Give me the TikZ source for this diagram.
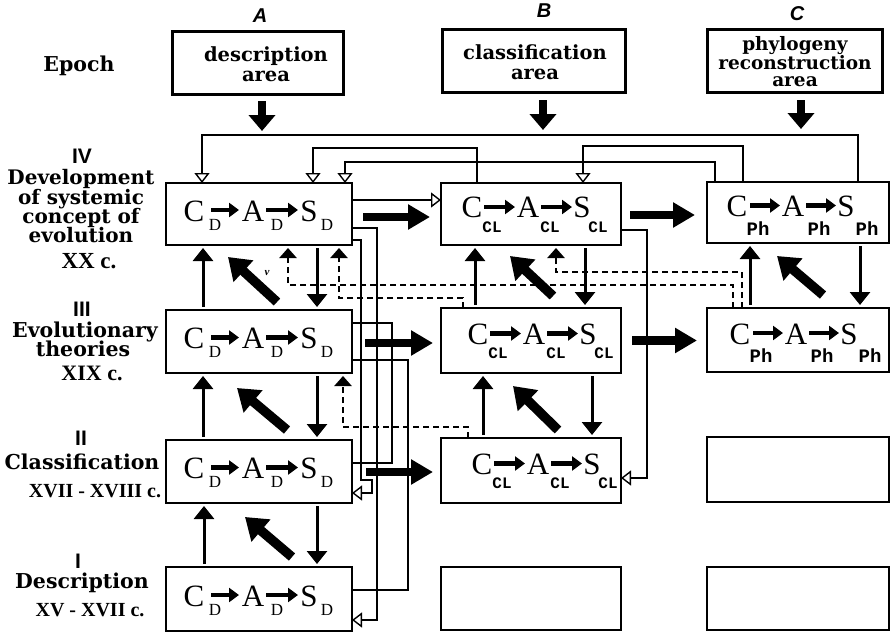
\documentclass[tikz,border=0pt]{standalone}
\usepackage{fontspec}
\usetikzlibrary{arrows.meta}
\newfontfamily\lblf{DejaVu Serif}
\newfontfamily\tmsf{Liberation Serif}
\newfontfamily\monf{Liberation Mono}
\newfontfamily\sanf{Liberation Sans}
\tikzset{
 rbox/.style={draw, line width=2.5pt, inner sep=0pt, outer sep=0pt},
 hbox/.style={draw, line width=3pt, inner sep=0pt, outer sep=0pt},
 htxt/.style={align=center, inner sep=0pt, font=\lblf\bfseries\fontsize{19.5}{20}\selectfont},
 lab/.style={font=\lblf\bfseries\fontsize{20.5}{18}\selectfont, anchor=base, inner sep=0pt},
 labs/.style={lab, font=\lblf\bfseries\fontsize{20}{18}\selectfont},
 cent/.style={font=\tmsf\bfseries\fontsize{20}{20}\selectfont, anchor=base, inner sep=0pt},
 rom/.style={font=\sanf\bfseries\fontsize{21}{21}\selectfont, anchor=base, inner sep=0pt},
 col/.style={font=\sanf\bfseries\itshape\fontsize{20}{20}\selectfont, inner sep=0pt},
 bigl/.style={font=\tmsf\fontsize{31}{31}\selectfont, anchor=base, inner sep=0pt},
 subD/.style={font=\tmsf\fontsize{17}{17}\selectfont, anchor=base, inner sep=0pt},
 subCL/.style={font=\monf\bfseries\fontsize{16}{16}\selectfont, anchor=base, inner sep=0pt},
 subPh/.style={font=\monf\bfseries\fontsize{19}{19}\selectfont, anchor=base, inner sep=0pt},
 inarr/.style={line width=4.5pt, -{Triangle[width=14pt,length=10pt]}},
 blockar/.style={line width=8pt, -{Triangle[width=26pt,length=16pt]}},
 midar/.style={line width=3pt, -{Triangle[width=20pt,length=13pt]}},
 diagar/.style={line width=9.5pt, -{Triangle[width=28pt,length=21pt]}},
 horar/.style={line width=8.5pt, -{Triangle[width=24pt,length=22pt]}},
 dashline/.style={line width=2.5pt, dash pattern=on 6pt off 4pt},
 dasharr/.style={dashline, -{Triangle[width=17pt,length=10pt]}},
 fb/.style={line width=1.4pt},
 fbarr/.style={fb, -{Triangle[open, width=15pt, length=10pt]}},
}
% box contents
\newcommand\trioD[1]{%
 \path ([xshift=28pt,yshift=-7pt]#1.west) node[bigl] (#1-C) {C}
       ([xshift=49pt,yshift=-16pt]#1.west) node[subD] (#1-s1) {D}
       ([xshift=87pt,yshift=-7pt]#1.west) node[bigl] (#1-A) {A}
       ([xshift=111pt,yshift=-16pt]#1.west) node[subD] (#1-s2) {D}
       ([xshift=143pt,yshift=-7pt]#1.west) node[bigl] (#1-S) {S}
       ([xshift=161pt,yshift=-16pt]#1.west) node[subD] (#1-s3) {D};
 \draw[inarr] ([xshift=45pt,yshift=4pt]#1.west) -- ++(28,0);
 \draw[inarr] ([xshift=100pt,yshift=4pt]#1.west) -- ++(32,0);
}
\newcommand\trioCL[2]{%
 \path ([xshift={(31+#2)*1pt},yshift=-3.5pt]#1.west) node[bigl] (#1-C) {C}
       ([xshift={(51+#2)*1pt},yshift=-18pt]#1.west) node[subCL] (#1-s1) {CL}
       ([xshift={(87+#2)*1pt},yshift=-3.5pt]#1.west) node[bigl] (#1-A) {A}
       ([xshift={(109+#2)*1pt},yshift=-18pt]#1.west) node[subCL] (#1-s2) {CL}
       ([xshift={(141+#2)*1pt},yshift=-3.5pt]#1.west) node[bigl] (#1-S) {S}
       ([xshift={(157+#2)*1pt},yshift=-18pt]#1.west) node[subCL] (#1-s3) {CL};
 \draw[inarr] ([xshift={(43+#2)*1pt},yshift=7pt]#1.west) -- ++(31,0);
 \draw[inarr] ([xshift={(100+#2)*1pt},yshift=7pt]#1.west) -- ++(31,0);
}
\newcommand\trioPh[2]{%
 \path ([xshift={(30+#2)*1pt},yshift=-4pt]#1.west) node[bigl] (#1-C) {C}
       ([xshift={(51+#2)*1pt},yshift=-22.5pt]#1.west) node[subPh] (#1-s1) {Ph}
       ([xshift={(86+#2)*1pt},yshift=-4pt]#1.west) node[bigl] (#1-A) {A}
       ([xshift={(112+#2)*1pt},yshift=-22.5pt]#1.west) node[subPh] (#1-s2) {Ph}
       ([xshift={(139+#2)*1pt},yshift=-4pt]#1.west) node[bigl] (#1-S) {S}
       ([xshift={(160+#2)*1pt},yshift=-22.5pt]#1.west) node[subPh] (#1-s3) {Ph};
 \draw[inarr] ([xshift={(43+#2)*1pt},yshift=7pt]#1.west) -- ++(30,0);
 \draw[inarr] ([xshift={(99+#2)*1pt},yshift=7pt]#1.west) -- ++(30,0);
}
\begin{document}
\begin{tikzpicture}[x=1pt,y=-1pt]
\path[fill=white] (0,0) rectangle (892,634);
\useasboundingbox (0,0) rectangle (892,634);

% column letters and headers
\node[col] (colA) at (260,16) {A};
\node[col] (colB) at (544,11) {B};
\node[col] (colC) at (797,14) {C};
\node[lab,anchor=center] (epoch) at (79,66) {Epoch};
\node[hbox, minimum width=171, minimum height=63] (HA) at (257.5,63.5) {};
\node[hbox, minimum width=183, minimum height=63] (HB) at (533.5,61.5) {};
\node[hbox, minimum width=175, minimum height=63] (HC) at (794.5,61.5) {};
\node[htxt] (HAt) at (266,64) {description\\area};
\node[htxt] (HBt) at (535,62) {classification\\area};
\node[htxt, font=\lblf\bfseries\fontsize{18.5}{17}\selectfont] (HCt) at (795,62) {phylogeny\\reconstruction\\area};
\draw[blockar] ([xshift=4.5pt,yshift=-6pt]HA.south) -- ++(0,30);
\draw[blockar] ([xshift=9.5pt,yshift=-7pt]HB.south) -- ++(0,30);
\draw[blockar] ([xshift=6.5pt,yshift=-7pt]HC.south) -- ++(0,29);

% row labels
\node[rom] (r4) at (82,163) {IV};
\node[labs] (r4a) at (81,184.5) {Development};
\node[labs] (r4b) at (81,204) {of systemic};
\node[labs] (r4c) at (81,223.5) {concept of};
\node[labs] (r4d) at (81,242) {evolution};
\node[cent, font=\tmsf\bfseries\fontsize{23}{23}\selectfont] (r4e) at (89,268) {XX c.};
\node[rom] (r3) at (82,316) {III};
\node[lab] (r3a) at (85,337) {Evolutionary};
\node[lab] (r3b) at (83,356) {theories};
\node[cent, font=\tmsf\bfseries\fontsize{22}{22}\selectfont] (r3c) at (92,380) {XIX c.};
\node[rom] (r2) at (81,445) {II};
\node[lab] (r2a) at (82,469) {Classification};
\node[cent] (r2b) at (95,497) {XVII - XVIII c.};
\node[rom] (r1) at (78,568) {I};
\node[lab] (r1a) at (82,588) {Description};
\node[cent] (r1b) at (90,616) {XV - XVII c.};

% boxes
\node[rbox, minimum width=186, minimum height=62] (A4) at (259,214) {};
\node[rbox, minimum width=186, minimum height=63] (A3) at (259,341.5) {};
\node[rbox, minimum width=186, minimum height=63] (A2) at (259,471.5) {};
\node[rbox, minimum width=186, minimum height=64] (A1) at (259,599) {};
\node[rbox, minimum width=180, minimum height=62] (B4) at (531,214) {};
\node[rbox, minimum width=180, minimum height=65] (B3) at (531,340.5) {};
\node[rbox, minimum width=180, minimum height=65] (B2) at (531,470.5) {};
\node[rbox, minimum width=180, minimum height=63] (B1) at (531,598.5) {};
\node[rbox, minimum width=182, minimum height=61] (C4) at (798,212.5) {};
\node[rbox, minimum width=182, minimum height=64] (C3) at (798,340) {};
\node[rbox, minimum width=182, minimum height=65] (C2) at (798,469.5) {};
\node[rbox, minimum width=182, minimum height=63] (C1) at (798,598.5) {};

\trioD{A4}\trioD{A3}\trioD{A2}\trioD{A1}
\trioCL{B4}{0}\trioCL{B3}{6}\trioCL{B2}{10}
\trioPh{C4}{0}\trioPh{C3}{3}

% feedback lines (thin)
\draw[fbarr] ([xshift=151pt]C4.north west) -- ++(0,-47) -| ([xshift=36pt]A4.north west);
\draw[fbarr] ([xshift=36pt]B4.north west) -- ++(0,-35) -| ([xshift=147pt]A4.north west);
\draw[fbarr] ([xshift=8pt]C4.north west) -- ++(0,-20) -| ([xshift=179pt]A4.north west);
\draw[fbarr] ([xshift=36pt]C4.north west) -- ++(0,-36) -| ([xshift=142pt]B4.north west);
\draw[fbarr] ([yshift=14pt]A4.east) -- ([yshift=14pt]B4.west);
\draw[fbarr] ([yshift=-14pt]A4.east) -- ++(25,0) |- ([yshift=-21pt]A1.east);
\draw[fbarr] ([yshift=-26pt]A4.east) -- ++(9,0) -- ++(0,240) -- ++(11,0) |- ([yshift=-21.5pt]A2.east);
\draw[fb] ([yshift=18.5pt]A3.east) -- ++(40,0) |- ([yshift=8.5pt]A2.east);
\draw[fb] ([yshift=-18.5pt]A3.east) -- ++(56,0) |- ([yshift=9pt]A1.east);
\draw[fbarr] ([yshift=-16pt]B4.east) -- ++(26,0) |- ([yshift=-7.5pt]B2.east);

% dashed links
\draw[dasharr] ([xshift=26pt]C3.north west) -- ++(0,-23) -| ([xshift=122pt,yshift=-3pt]A4.south west);
\draw[dasharr] ([xshift=22pt]B3.north west) -- ++(0,-10) -| ([xshift=173pt,yshift=-3pt]A4.south west);
\draw[dasharr] ([xshift=35pt]C3.north west) -- ++(0,-36) -| ([xshift=115pt,yshift=-3pt]B4.south west);
\draw[dasharr] ([xshift=27pt]B2.north west) -- ++(0,-11) -| ([xshift=177pt,yshift=-3pt]A3.south west);

% column A vertical arrows
\draw[midar] ([xshift=37pt,yshift=3pt]A3.north west) -- ([xshift=37pt,yshift=-3pt]A4.south west);
\draw[midar] ([xshift=151pt,yshift=-3pt]A4.south west) -- ([xshift=151pt,yshift=3pt]A3.north west);
\draw[diagar] ([xshift=111pt,yshift=8pt]A3.north west) -- ([xshift=62pt,yshift=-12pt]A4.south west);
\draw[midar] ([xshift=37pt,yshift=3pt]A2.north west) -- ([xshift=37pt,yshift=-3pt]A3.south west);
\draw[midar] ([xshift=151pt,yshift=-3pt]A3.south west) -- ([xshift=151pt,yshift=3pt]A2.north west);
\draw[diagar] ([xshift=121pt,yshift=10pt]A2.north west) -- ([xshift=71pt,yshift=-15pt]A3.south west);
\draw[midar] ([xshift=38pt,yshift=3pt]A1.north west) -- ([xshift=38pt,yshift=-3pt]A2.south west);
\draw[midar] ([xshift=151pt,yshift=-3pt]A2.south west) -- ([xshift=151pt,yshift=3pt]A1.north west);
\draw[diagar] ([xshift=126pt,yshift=10pt]A1.north west) -- ([xshift=79pt,yshift=-14pt]A2.south west);
\node[font=\tmsf\bfseries\itshape\fontsize{11}{11}\selectfont, inner sep=0pt] (mark) at (267,273) {v};

% column B vertical arrows
\draw[midar] ([xshift=34pt,yshift=3pt]B3.north west) -- ([xshift=34pt,yshift=-3pt]B4.south west);
\draw[midar] ([xshift=144pt,yshift=-3pt]B4.south west) -- ([xshift=144pt,yshift=3pt]B3.north west);
\draw[diagar] ([xshift=112pt,yshift=12pt]B3.north west) -- ([xshift=69pt,yshift=-11pt]B4.south west);
\draw[midar] ([xshift=42pt,yshift=3pt]B2.north west) -- ([xshift=42pt,yshift=-3pt]B3.south west);
\draw[midar] ([xshift=151pt,yshift=-3pt]B3.south west) -- ([xshift=151pt,yshift=3pt]B2.north west);
\draw[diagar] ([xshift=117pt,yshift=8pt]B2.north west) -- ([xshift=72pt,yshift=-13pt]B3.south west);

% column C vertical arrows
\draw[midar] ([xshift=43pt,yshift=3pt]C3.north west) -- ([xshift=43pt,yshift=-3pt]C4.south west);
\draw[midar] ([xshift=153pt,yshift=-3pt]C4.south west) -- ([xshift=153pt,yshift=3pt]C3.north west);
\draw[diagar] ([xshift=116pt,yshift=13pt]C3.north west) -- ([xshift=70pt,yshift=-13pt]C4.south west);

% horizontal thick arrows
\draw[horar] ([xshift=11pt,yshift=-3pt]A4.east) -- ++(67,0);
\draw[horar] ([xshift=13pt,yshift=-1.5pt]A3.east) -- ++(68,0);
\draw[horar] ([xshift=14pt,yshift=-0.5pt]A2.east) -- ++(67,0);
\draw[horar] ([xshift=9pt,yshift=-1pt]B4.east) -- ++(65,0);
\draw[horar] ([xshift=11pt]B3.east) -- ++(65,0);
\end{tikzpicture}
\end{document}
